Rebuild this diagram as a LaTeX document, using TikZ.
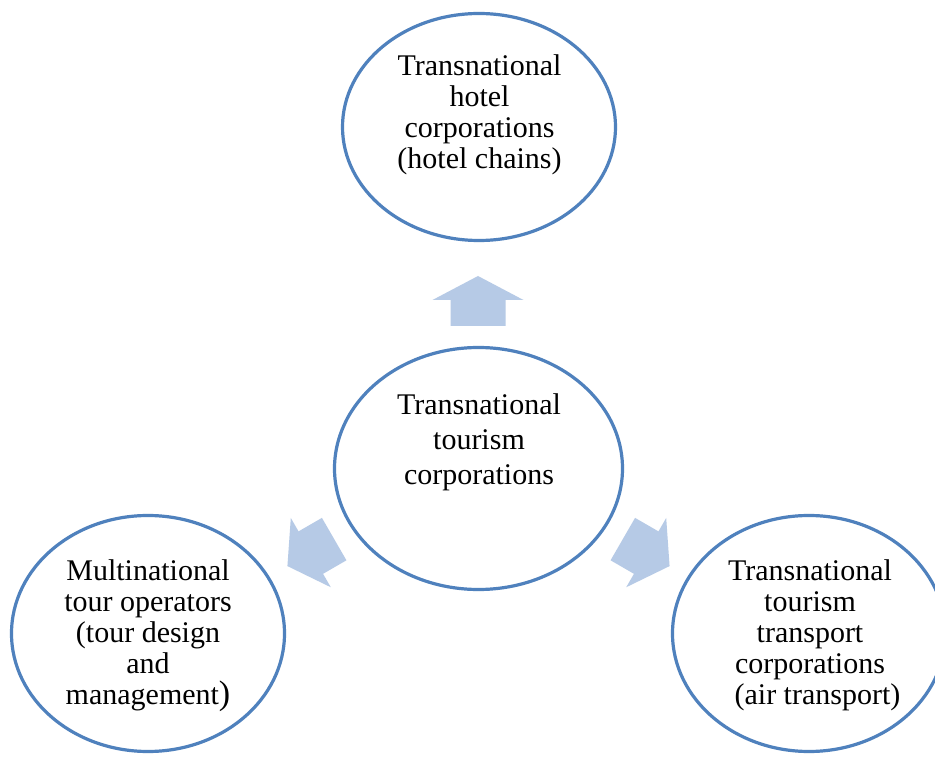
\documentclass[tikz,border=0pt]{standalone}
\usepackage{fontspec}
\setmainfont{Liberation Serif}
\usetikzlibrary{shapes.geometric}
\definecolor{ringblue}{RGB}{79,129,189}
\definecolor{arrowblue}{RGB}{182,202,230}
\tikzset{
  ring/.style={ellipse, draw=ringblue, line width=3.2pt, fill=white, inner sep=0pt},
  ringtext/.style={align=center, inner sep=0pt, font=\fontsize{30}{31}\selectfont, text=black},
  blockfill/.style={fill=arrowblue, draw=none}
}
\begin{document}
\begin{tikzpicture}[x=1pt,y=1pt]
\clip (0,0) rectangle (935,756);
\fill[white] (0,0) rectangle (935,756);
% ellipses
\node[ring, minimum width=273, minimum height=227] (hotel) at (479,629) {};
\node[ring, minimum width=288, minimum height=242] (core) at (478.5,287.5) {};
\node[ring, minimum width=273, minimum height=236] (tour) at (148,122.5) {};
\node[ring, minimum width=273, minimum height=236] (trans) at (809,122.5) {};
% texts
\node[ringtext] (hoteltext) at (479.5,641) {Transnational\\hotel\\corporations\\(hotel chains)};
\node[ringtext, font=\fontsize{30}{35}\selectfont] (coretext) at (479,314) {Transnational\\tourism\\corporations};
\node[ringtext] (tourtext) at (148,120.6) {Multinational\\tour operators\\(tour design\\and\\management{\fontsize{34}{31}\selectfont)}};
\node[ringtext] (transtext) at (810,120.6) {Transnational\\tourism\\transport\\corporations\\\hspace{0.5em}(air transport)};
% block arrows
\fill[blockfill, shift={(478,455)}]
  (0,25) -- (45.5,1) -- (27.5,1) -- (27.5,-25) -- (-27.5,-25) -- (-27.5,1) -- (-45.5,1) -- cycle;
\fill[blockfill, shift={(310.8,203.4)}, rotate=120]
  (0,27) -- (40,0) -- (24.5,0) -- (24.5,-27) -- (-24.5,-27) -- (-24.5,0) -- (-40,0) -- cycle;
\fill[blockfill, shift={(646.2,203.4)}, rotate=-120]
  (0,27) -- (40,0) -- (24.5,0) -- (24.5,-27) -- (-24.5,-27) -- (-24.5,0) -- (-40,0) -- cycle;
\end{tikzpicture}
\end{document}
